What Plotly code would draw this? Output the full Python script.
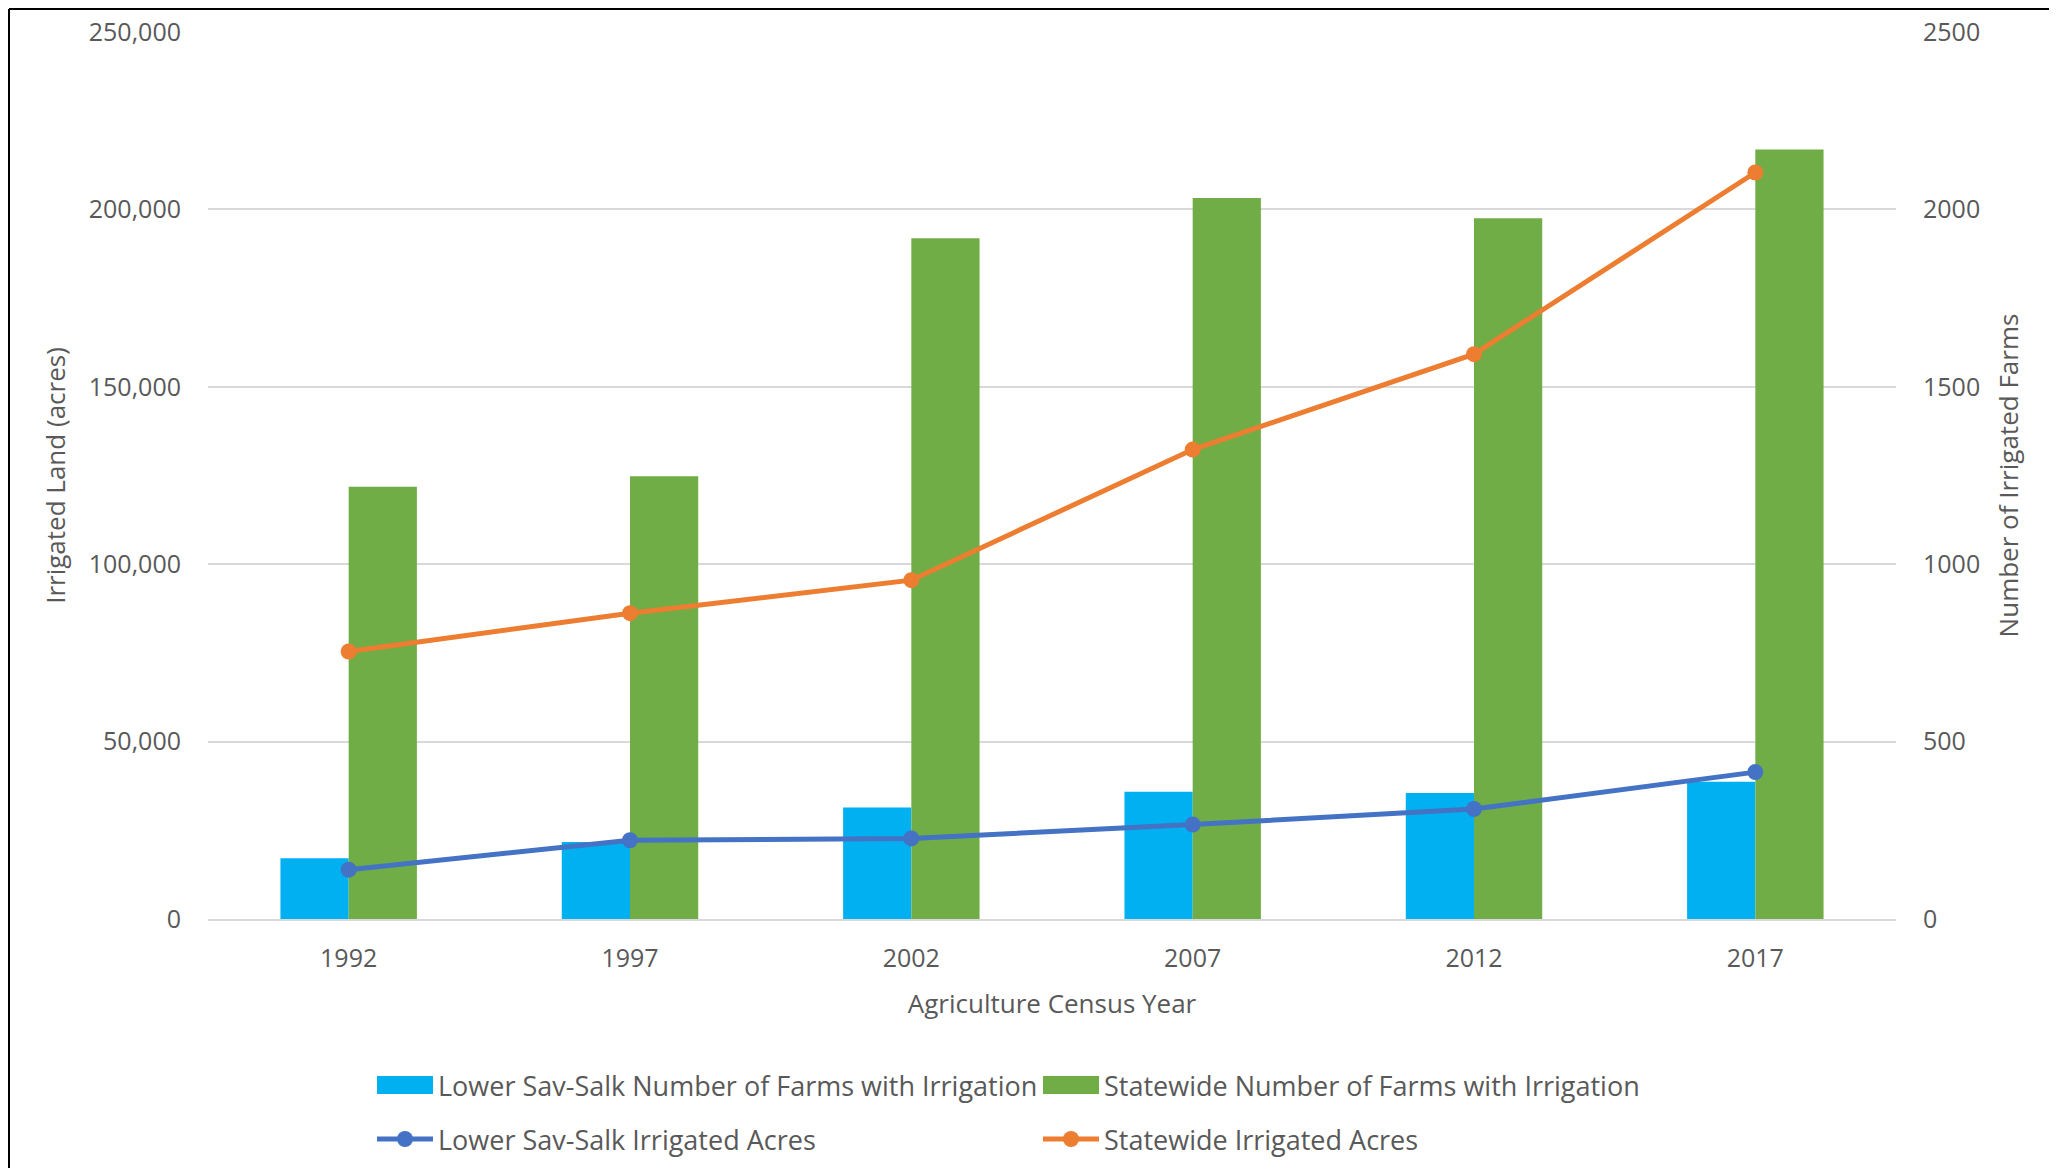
import plotly.graph_objects as go

# census years (x categories)
years = ["1992", "1997", "2002", "2007", "2012", "2017"]

# number of farms with irrigation (right axis)
lower_farms = [171, 217, 314, 359, 355, 387]
state_farms = [1218, 1248, 1919, 2032, 1975, 2169]

# irrigated acres (left axis)
lower_acres = [13900, 22200, 22700, 26600, 31000, 41400]
state_acres = [75400, 86200, 95500, 132300, 159200, 210400]

series_names = [
    "Lower Sav-Salk Number of Farms with Irrigation",
    "Statewide Number of Farms with Irrigation",
    "Lower Sav-Salk Irrigated Acres",
    "Statewide Irrigated Acres",
]
colors = ["#00B0F0", "#70AD47", "#4472C4", "#ED7D31"]

FONT = "Open Sans"
TXT = "#595959"
GRID = "#D9D9D9"

# the page body keeps an 8px margin on every side, so shrink the figure to fit
OFF = 8
W, H = 2057 - 2 * OFF, 1176 - 2 * OFF
L, T = 208 - OFF, 32 - OFF
pw, ph = 1688, 887
R, B = W - L - pw, H - T - ph


def px(x):
    return (x - OFF - L) / pw


def py(y):
    return (OFF + T + ph - y) / ph


fig = go.Figure()

fig.add_trace(go.Bar(x=years, y=lower_farms, name=series_names[0],
                     marker_color=colors[0], marker_line_width=0, yaxis="y"))
fig.add_trace(go.Bar(x=years, y=state_farms, name=series_names[1],
                     marker_color=colors[1], marker_line_width=0, yaxis="y"))
fig.add_trace(go.Scatter(x=years, y=lower_acres, name=series_names[2],
                         mode="lines+markers", line=dict(color=colors[2], width=5),
                         marker=dict(size=16, color=colors[2]), yaxis="y2"))
fig.add_trace(go.Scatter(x=years, y=state_acres, name=series_names[3],
                         mode="lines+markers", line=dict(color=colors[3], width=5),
                         marker=dict(size=16, color=colors[3]), yaxis="y2"))

fig.update_layout(
    width=W, height=H,
    margin=dict(l=L, r=R, t=T, b=B, autoexpand=False),
    paper_bgcolor="white", plot_bgcolor="white",
    font=dict(family=FONT, size=26, color=TXT),
    barmode="group", bargap=0.515, bargroupgap=0,
    showlegend=False,
    xaxis=dict(
        type="category", showgrid=False, showline=True, linecolor=GRID, linewidth=2,
        ticks="", ticklabelstandoff=16, automargin=False,
        tickfont=dict(family=FONT, size=25, color=TXT),
        title=dict(text="Agriculture Census Year", standoff=22,
                   font=dict(family=FONT, size=26, color=TXT)),
    ),
    yaxis=dict(
        side="right", range=[0, 2500], dtick=500, tickformat="d",
        showgrid=True, gridcolor=GRID, gridwidth=2, zeroline=False,
        ticks="", ticklabelstandoff=26, automargin=False,
        tickfont=dict(family=FONT, size=25, color=TXT),
        title=dict(text="Number of Irrigated Farms", standoff=20,
                   font=dict(family=FONT, size=26, color=TXT)),
    ),
    yaxis2=dict(
        side="left", overlaying="y", range=[0, 250000], dtick=50000, tickformat=",d",
        showgrid=False, zeroline=False, automargin=False,
        ticks="", ticklabelstandoff=26,
        tickfont=dict(family=FONT, size=25, color=TXT),
        title=dict(text="Irrigated Land (acres)", standoff=15,
                   font=dict(family=FONT, size=26, color=TXT)),
    ),
)

# legend drawn by hand: wide swatches for bars, line + dot for lines
rows = [1085, 1085, 1139, 1139]
cols = [377, 1043, 377, 1043]
for name, color, ry, cx in zip(series_names, colors, rows, cols):
    if name.endswith("Irrigation"):
        fig.add_shape(type="rect", xref="paper", yref="paper",
                      x0=px(cx), x1=px(cx + 56), y0=py(ry + 9), y1=py(ry - 9),
                      fillcolor=color, line_width=0)
    else:
        fig.add_shape(type="line", xref="paper", yref="paper",
                      x0=px(cx), x1=px(cx + 56), y0=py(ry), y1=py(ry),
                      line=dict(color=color, width=5))
        fig.add_shape(type="circle", xref="paper", yref="paper",
                      x0=px(cx + 20), x1=px(cx + 36), y0=py(ry + 8), y1=py(ry - 8),
                      fillcolor=color, line_width=0)
    fig.add_annotation(text=name, xref="paper", yref="paper",
                       x=px(cx + 59), y=py(ry), xanchor="left", yanchor="middle",
                       showarrow=False, font=dict(family=FONT, size=27, color=TXT))

# black frame only on the left and top edges, as in the original
fig.add_shape(type="line", xref="paper", yref="paper",
              x0=px(OFF + 1), x1=px(OFF + 1), y0=py(OFF + H), y1=py(OFF + 1),
              line=dict(color="black", width=2), layer="above")
fig.add_shape(type="line", xref="paper", yref="paper",
              x0=px(OFF + 1), x1=px(OFF + W), y0=py(OFF + 1), y1=py(OFF + 1),
              line=dict(color="black", width=2), layer="above")

fig.write_html("out.html")
